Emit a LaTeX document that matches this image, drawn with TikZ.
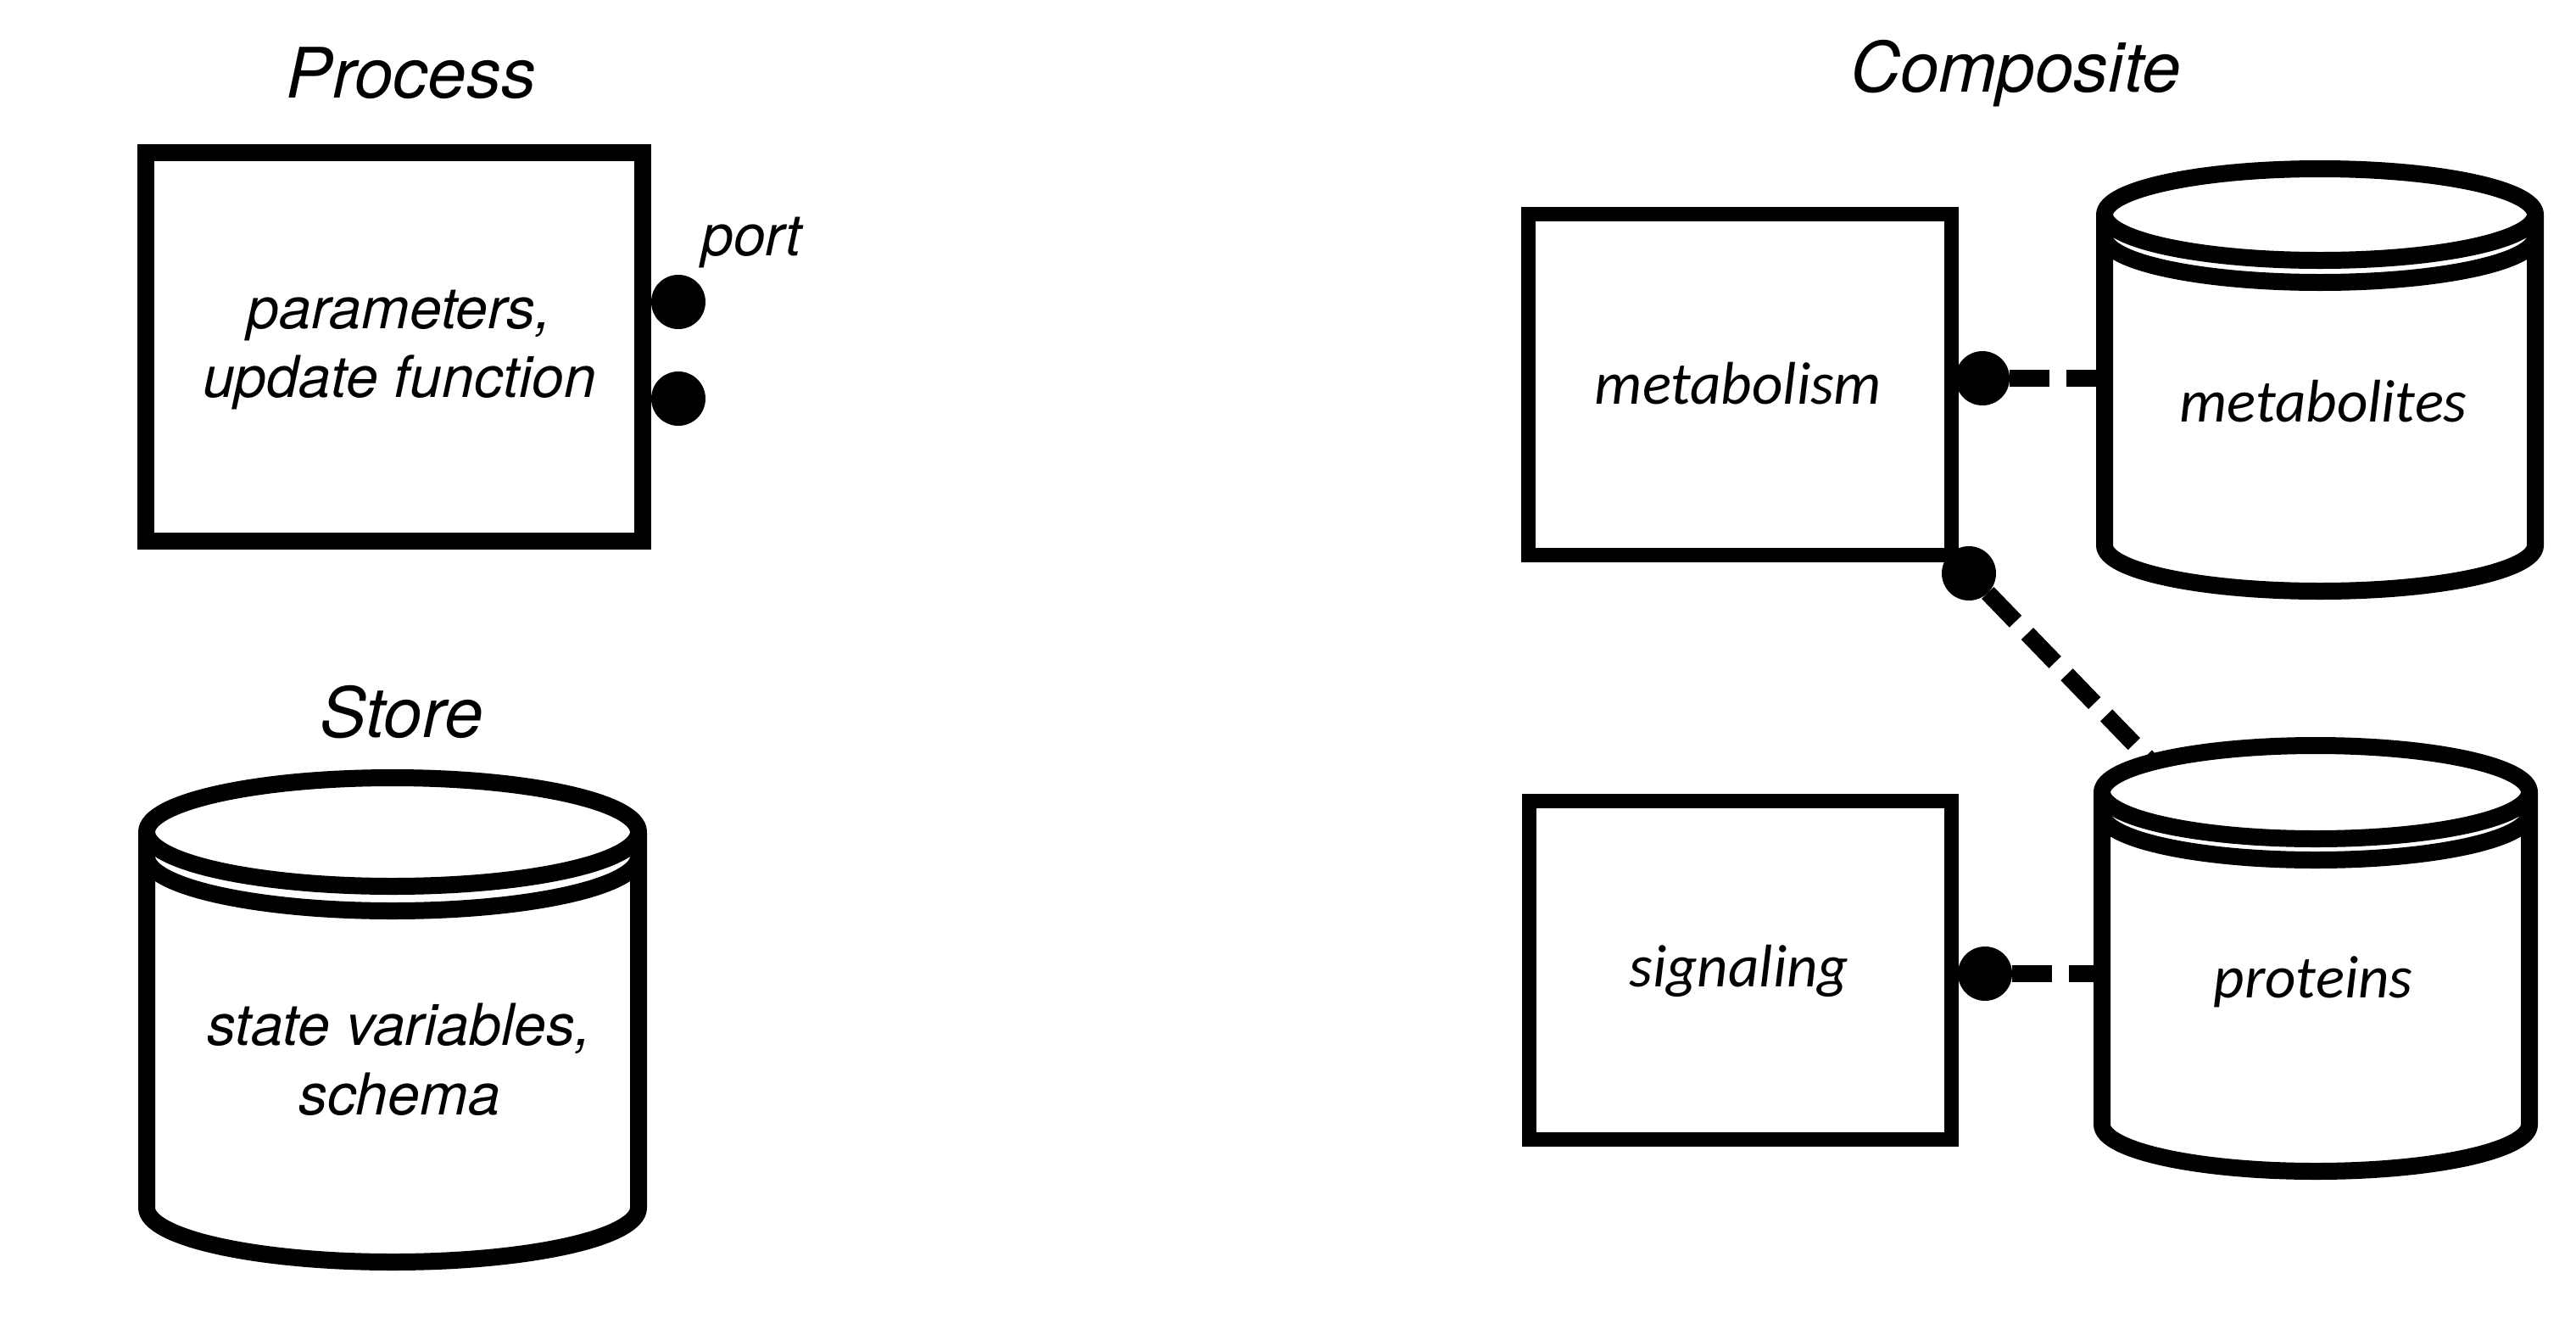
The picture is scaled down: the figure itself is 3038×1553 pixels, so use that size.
\documentclass[tikz,border=0pt]{standalone}
\usepackage{fontspec}
\setmainfont{TeX Gyre Heros}
\newfontfamily\calibfont{Carlito}
\newcommand\mycyl[6]{%
  \draw[cylline] ({#1-#2},{-#3}) -- ({#1-#2},{-#4}) arc[start angle=180,end angle=360,x radius=#2pt,y radius=#5pt] -- ({#1+#2},{-#3});
  \draw[cylline] (#1,{-#3}) ellipse[x radius=#2pt, y radius=#5pt];
  \draw[cylline] ({#1-#2},{-#3-#6}) arc[start angle=180,end angle=360,x radius=#2pt,y radius=#5pt];
}
\tikzset{
  titletext/.style={font=\fontsize{82pt}{98pt}\selectfont\itshape, anchor=base, inner sep=0pt},
  bodytext/.style={font=\fontsize{68pt}{81pt}\selectfont\itshape, anchor=base, inner sep=0pt},
  clabel/.style={font=\calibfont\fontsize{71pt}{85pt}\selectfont\itshape, anchor=base, inner sep=0pt},
  procbox/.style={draw, line width=20pt, inner sep=0pt},
  compbox/.style={draw, line width=17pt, inner sep=0pt},
  portdot/.style={circle, fill=black, minimum size=64pt, inner sep=0pt, outer sep=0pt},
  link/.style={line width=20pt, dash pattern=on 47pt off 20pt},
  cylline/.style={line width=20pt, line join=round},
  cylbody/.style={inner sep=0pt, outer sep=0pt}
}
\begin{document}
\begin{tikzpicture}[x=1pt,y=1pt]
\fill[white] (0,0) rectangle (3038,-1553);
\useasboundingbox (0,0) rectangle (3038,-1553);

% titles
\node[titletext] (tproc) at (485,-115) {Process};
\node[titletext] (tstore) at (474,-869) {Store};
\node[titletext] (tcomp) at (2377,-108) {Composite};

% process
\node[procbox, minimum width=586pt, minimum height=458pt] (process) at (465,-409) {};
\node[bodytext] (ptxt1) at (471,-387) {parameters,};
\node[bodytext] (ptxt2) at (471,-468) {update function};
\node[portdot] (pport1) at (800,-356) {};
\node[portdot] (pport2) at (800,-470) {};
\node[bodytext, anchor=base west] (portlbl) at (827,-301) {port};

% store
\node[cylbody, minimum width=580pt, minimum height=443pt] (store) at (463,-1202.5) {};
\mycyl{463}{290}{981}{1424}{64}{29}
\node[bodytext] (stxt1) at (471,-1232) {state variables,};
\node[bodytext] (stxt2) at (471,-1314) {schema};

% composite
\node[compbox, minimum width=498.5pt, minimum height=402pt] (metabolism) at (2051.75,-453.5) {};
\node[compbox, minimum width=498pt, minimum height=399.5pt] (signaling) at (2052,-1143.75) {};
\node[cylbody, minimum width=508pt, minimum height=390pt] (metabolites) at (2736,-448) {};
\node[cylbody, minimum width=504pt, minimum height=392pt] (proteins) at (2731,-1130) {};
\coordinate (ptop) at (2536,-897);

\node[portdot] (mport1) at (2338,-446) {};
\node[portdot] (mport2) at (2322,-676) {};
\node[portdot] (sport) at (2341,-1148) {};

\draw[link] (mport1) -- (mport1 -| metabolites.west);
\draw[link] (mport2) -- (ptop);
\draw[link] (sport) -- (sport -| proteins.west);

\mycyl{2736}{254}{253}{643}{54}{26}
\mycyl{2731}{252}{934}{1326}{55}{25}

\node[clabel] (lmetabolism) at (2050,-476) {metabolism};
\node[clabel] (lmetabolites) at (2740,-497) {metabolites};
\node[clabel] (lsignaling) at (2051,-1163) {signaling};
\node[clabel] (lproteins) at (2728,-1176) {proteins};
\end{tikzpicture}
\end{document}
